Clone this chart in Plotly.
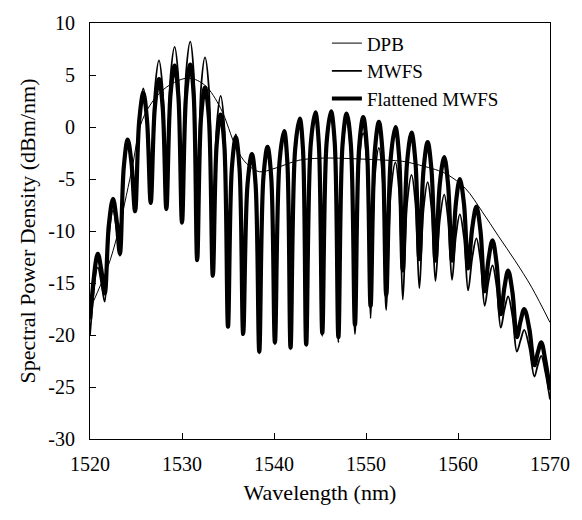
import plotly.graph_objects as go

# Wavelength samples (nm) shared by the two oscillating spectra (peaks, troughs, shoulders)
wl_osc = [1520.0, 1520.85,
          1521.22, 1521.6, 1522.05, 1522.5,
          1522.87, 1523.25, 1523.67, 1524.1,
          1524.5, 1524.9, 1525.35, 1525.8,
          1526.2, 1526.6, 1527.05, 1527.5,
          1527.9, 1528.3, 1528.75, 1529.2,
          1529.6, 1530.0, 1530.45, 1530.9,
          1531.27, 1531.65, 1532.07, 1532.5,
          1532.92, 1533.35, 1533.77, 1534.2,
          1534.6, 1535.0, 1535.42, 1535.85,
          1536.25, 1536.65, 1537.12, 1537.6,
          1538.0, 1538.4, 1538.85, 1539.3,
          1539.7, 1540.1, 1540.6, 1541.1,
          1541.45, 1541.8, 1542.3, 1542.8,
          1543.15, 1543.5, 1544.0, 1544.5,
          1544.87, 1545.25, 1545.72, 1546.2,
          1546.6, 1547.0, 1547.45, 1547.9,
          1548.35, 1548.8, 1549.25, 1549.7,
          1550.1, 1550.5, 1550.95, 1551.4,
          1551.8, 1552.2, 1552.7, 1553.2,
          1553.6, 1554.0, 1554.47, 1554.95,
          1555.37, 1555.8, 1556.25, 1556.7,
          1557.12, 1557.55, 1558.02, 1558.5,
          1558.92, 1559.35, 1559.77, 1560.2,
          1560.65, 1561.1, 1561.55, 1562.0,
          1562.45, 1562.9, 1563.32, 1563.75,
          1564.2, 1564.65, 1565.05, 1565.45,
          1565.92, 1566.4, 1566.8, 1567.2,
          1567.75, 1568.3, 1568.67, 1569.05,
          1569.5, 1570.0]

mwfs_db = [-20.0, -13.5,
           -14.9, -16.8, -10.4, -8.0,
           -9.7, -12.4, -3.9, -1.2,
           -3.4, -8.1, 1.0, 3.7,
           1.0, -7.3, 3.6, 6.4,
           3.6, -7.9, 4.85, 7.7,
           4.8, -9.2, 5.3, 8.2,
           5.25, -12.85, 3.75, 6.7,
           3.75, -14.3, 0.1, 3.0,
           0.05, -19.3, -3.65, -0.7,
           -3.65, -20.0, -5.55, -2.6,
           -5.55, -21.8, -4.85, -1.9,
           -4.85, -20.9, -3.35, -0.4,
           -3.35, -21.4, -2.15, 0.8,
           -2.15, -21.1, -1.7, 1.3,
           -1.7, -20.1, -1.8, 1.2,
           -1.8, -20.7, -2.4, 0.6,
           -2.4, -19.9, -3.55, -0.6,
           -3.55, -18.4, -4.9, -2.0,
           -4.9, -17.6, -6.25, -3.4,
           -6.2, -16.6, -7.35, -4.6,
           -7.3, -15.5, -7.95, -5.3,
           -7.85, -14.8, -8.95, -6.5,
           -8.9, -14.7, -10.5, -8.4,
           -10.65, -15.7, -12.55, -10.7,
           -12.9, -17.2, -14.85, -13.3,
           -15.35, -19.3, -17.55, -16.3,
           -18.2, -21.6, -20.5, -19.5,
           -21.2, -24.0, -22.9, -22.0,
           -23.6, -26.2]

flat_db = [-18.5, -12.2,
           -13.7, -16.0, -9.4, -6.9,
           -8.8, -12.2, -3.9, -1.2,
           -3.4, -8.1, 0.6, 3.3,
           0.6, -7.3, 1.9, 4.6,
           1.9, -7.9, 3.1, 5.9,
           3.05, -9.2, 3.15, 6.0,
           3.1, -12.8, 0.9, 3.8,
           0.9, -14.3, -1.7, 1.2,
           -1.75, -19.2, -3.95, -1.0,
           -3.95, -19.9, -5.55, -2.6,
           -5.55, -21.6, -4.85, -1.9,
           -4.85, -20.7, -3.35, -0.4,
           -3.35, -21.2, -2.15, 0.8,
           -2.15, -20.9, -1.6, 1.4,
           -1.6, -19.8, -1.5, 1.5,
           -1.5, -20.2, -1.7, 1.3,
           -1.65, -19.0, -2.0, 0.95,
           -2.0, -17.2, -2.45, 0.5,
           -2.45, -16.2, -2.9, 0.0,
           -2.85, -13.8, -3.35, -0.55,
           -3.3, -12.7, -4.15, -1.45,
           -4.15, -12.85, -5.5, -2.9,
           -5.5, -12.85, -7.35, -5.0,
           -7.4, -13.6, -9.7, -7.65,
           -10.05, -15.8, -12.7, -10.9,
           -13.15, -18.0, -15.4, -13.8,
           -15.9, -20.2, -18.65, -17.5,
           -19.4, -22.9, -21.7, -20.7,
           -22.5, -25.3]

dpb_wl = [1520.0, 1521.0, 1522.0, 1523.0, 1524.5, 1525.7, 1527.5, 1529.2, 1530.8,
          1532.5, 1534.2, 1535.9, 1537.0, 1538.4, 1540.0, 1542.7, 1545.0, 1547.0,
          1550.0, 1552.4, 1554.0, 1556.4, 1557.9, 1558.9, 1560.8, 1562.6, 1564.4,
          1566.2, 1568.0, 1570.0]
dpb_db = [-17.5, -15.5, -13.3, -10.3, -4.3, 0.7, 3.2, 4.3, 4.7,
          4.0, 1.8, -2.0, -3.5, -4.3, -4.0, -3.2, -3.0, -3.0,
          -3.1, -3.2, -3.3, -3.8, -4.2, -4.6, -5.9, -8.1, -10.5,
          -12.85, -15.4, -18.8]

x_ticks = [1520, 1530, 1540, 1550, 1560, 1570]
y_ticks = [10, 5, 0, -5, -10, -15, -20, -25, -30]
y_ticktext = ["10", "5", "0", "-5", "-10", "-15", "-20", "-25", "-30"]

FONT = "Liberation Serif, Times New Roman, serif"

fig = go.Figure()
fig.add_trace(go.Scatter(x=wl_osc, y=flat_db, mode="lines", name="Flattened MWFS",
                         line=dict(color="black", width=4.2, shape="spline", smoothing=1.0),
                         legendrank=3))
fig.add_trace(go.Scatter(x=wl_osc, y=mwfs_db, mode="lines", name="MWFS",
                         line=dict(color="black", width=1.8, shape="spline", smoothing=1.0),
                         legendrank=2))
fig.add_trace(go.Scatter(x=dpb_wl, y=dpb_db, mode="lines", name="DPB",
                         line=dict(color="black", width=1, shape="spline", smoothing=1.0),
                         legendrank=1))

axis_common = dict(showline=True, linecolor="black", linewidth=1, mirror=True,
                   ticks="inside", ticklen=6, tickcolor="black", tickwidth=1,
                   showgrid=False, zeroline=False,
                   tickfont=dict(family=FONT, size=20, color="black"))

fig.update_layout(
    width=582, height=520,
    margin=dict(l=90, r=30, t=15, b=81),
    paper_bgcolor="white", plot_bgcolor="white",
    font=dict(family=FONT, color="black", size=20),
    showlegend=True,
    legend=dict(x=0.515, y=0.997, xanchor="left", yanchor="top",
                bgcolor="rgba(0,0,0,0)", font=dict(family=FONT, size=19),
                tracegroupgap=0),
    xaxis=dict(range=[1520, 1570], tickvals=x_ticks, ticklabelstandoff=7,
               title=dict(text="Wavelength (nm)", font=dict(family=FONT, size=22), standoff=10),
               **axis_common),
    yaxis=dict(range=[-30, 10], tickvals=y_ticks, ticktext=y_ticktext, ticklabelstandoff=10,
               title=dict(text="Spectral Power Density (dBm/nm)", font=dict(family=FONT, size=22), standoff=6),
               **axis_common),
)

fig.write_html("out.html")
